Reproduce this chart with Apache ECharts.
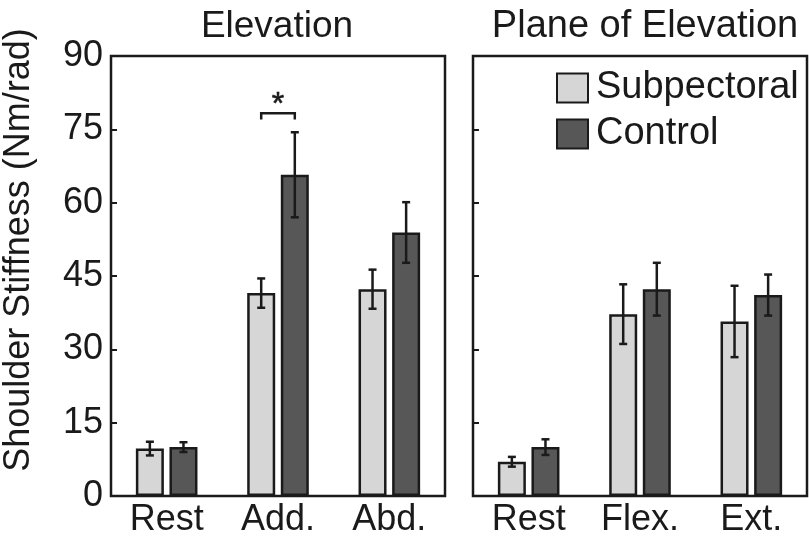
<!DOCTYPE html>
<html>
<head>
<meta charset="utf-8">
<script src="https://cdn.jsdelivr.net/npm/echarts@6/dist/echarts.min.js"></script>
<style>
  html, body { margin: 0; padding: 0; background: #fff; }
  #chart { width: 809px; height: 540px; }
</style>
</head>
<body>
<div id="chart"></div>
<script>
// categories
const elevCats = ['Rest', 'Add.', 'Abd.'];
const planeCats = ['Rest', 'Flex.', 'Ext.'];
// means and error (+/-)
const elevSub = [9.7, 41.5, 42.3];
const elevSubErr = [1.4, 3.0, 4.0];
const elevCtrl = [10.0, 65.7, 53.9];
const elevCtrlErr = [1.0, 8.7, 6.2];
const planeSub = [7.0, 37.2, 35.7];
const planeSubErr = [1.0, 6.1, 7.3];
const planeCtrl = [10.0, 42.3, 41.1];
const planeCtrlErr = [1.6, 5.4, 4.2];
// y axis
const yMin = 0, yMax = 90, yStep = 15;
// significance bracket on Add.
const sigCat = 1, sigTop = 78.3, sigTip = 77.0, sigMark = '*';

const FONT = 'Liberation Sans, Arial, sans-serif';
const INK = '#1a1a1a';
const LIGHT = '#d6d6d6';
const DARK = '#575757';
const BAR_W = 28;
const BAR_GAP = 0.2;
const OFF = BAR_W * (1 + BAR_GAP) / 2;

function errData(vals, errs) {
  return vals.map((v, i) => [i, v - errs[i], v + errs[i]]);
}

function errRender(offset) {
  return function (params, api) {
    const lo = api.coord([api.value(0), api.value(1)]);
    const hi = api.coord([api.value(0), api.value(2)]);
    const x = lo[0] + offset;
    const cap = 4;
    const st = { stroke: INK, lineWidth: 2.5 };
    return {
      type: 'group',
      children: [
        { type: 'line', shape: { x1: x, y1: lo[1], x2: x, y2: hi[1] }, style: st },
        { type: 'line', shape: { x1: x - cap, y1: lo[1], x2: x + cap, y2: lo[1] }, style: st },
        { type: 'line', shape: { x1: x - cap, y1: hi[1], x2: x + cap, y2: hi[1] }, style: st }
      ]
    };
  };
}

function barSeries(name, data, color, idx) {
  return {
    name: name,
    type: 'bar',
    xAxisIndex: idx,
    yAxisIndex: idx,
    data: data,
    barWidth: BAR_W,
    barGap: (BAR_GAP * 100) + '%',
    itemStyle: { color: color, borderColor: INK, borderWidth: 2.5 },
    z: 2
  };
}

function errSeries(vals, errs, offset, idx) {
  return {
    type: 'custom',
    xAxisIndex: idx,
    yAxisIndex: idx,
    data: errData(vals, errs),
    encode: { x: 0, y: [1, 2] },
    renderItem: errRender(offset),
    z: 4,
    silent: true
  };
}

function yAxis(idx, showLabels) {
  const ax = {
    type: 'value',
    gridIndex: idx,
    min: yMin,
    max: yMax,
    interval: yStep,
    splitLine: { show: false },
    axisLine: { show: false },
    axisTick: { show: true, inside: true, length: 6, lineStyle: { color: INK, width: 2 } },
    axisLabel: { show: showLabels, fontSize: 36, color: INK, fontFamily: FONT, margin: 8 }
  };
  if (showLabels) {
    ax.name = 'Shoulder Stiffness (Nm/rad)';
    ax.nameLocation = 'middle';
    ax.nameGap = 74;
    ax.nameTextStyle = { fontSize: 36, color: INK, fontFamily: FONT, padding: [0, 0, 0, 52] };
  }
  return ax;
}

function xAxis(idx, cats) {
  return {
    type: 'category',
    gridIndex: idx,
    data: cats,
    axisLine: { show: false },
    axisTick: { show: false },
    axisLabel: { fontSize: 36, color: INK, fontFamily: FONT, margin: 6, interval: 0 }
  };
}

const chart = echarts.init(document.getElementById('chart'));
chart.setOption({
  animation: false,
  backgroundColor: '#fff',
  title: [
    { text: 'Elevation', left: 277, top: 8, textAlign: 'center', padding: 0,
      textStyle: { fontSize: 37, fontWeight: 'normal', color: INK, fontFamily: FONT } },
    { text: 'Plane of Elevation', left: 645, top: 8, textAlign: 'center', padding: 0,
      textStyle: { fontSize: 38, fontWeight: 'normal', color: INK, fontFamily: FONT } }
  ],
  legend: {
    data: ['Subpectoral', 'Control'],
    orient: 'vertical',
    left: 556,
    top: 69,
    padding: 0,
    icon: 'rect',
    itemWidth: 31,
    itemHeight: 29,
    itemGap: 8,
    textStyle: { fontSize: 38, color: INK, fontFamily: FONT, padding: [0, 0, 0, 3] }
  },
  grid: [
    { left: 110, top: 56, width: 335, height: 440, show: true, borderColor: INK, borderWidth: 2.5, backgroundColor: 'transparent' },
    { left: 473, top: 56, width: 334, height: 440, show: true, borderColor: INK, borderWidth: 2.5, backgroundColor: 'transparent' }
  ],
  xAxis: [xAxis(0, elevCats), xAxis(1, planeCats)],
  yAxis: [yAxis(0, true), yAxis(1, false)],
  series: [
    barSeries('Subpectoral', elevSub, LIGHT, 0),
    barSeries('Control', elevCtrl, DARK, 0),
    barSeries('Subpectoral', planeSub, LIGHT, 1),
    barSeries('Control', planeCtrl, DARK, 1),
    errSeries(elevSub, elevSubErr, -OFF, 0),
    errSeries(elevCtrl, elevCtrlErr, OFF, 0),
    errSeries(planeSub, planeSubErr, -OFF, 1),
    errSeries(planeCtrl, planeCtrlErr, OFF, 1),
    {
      type: 'custom',
      xAxisIndex: 0,
      yAxisIndex: 0,
      data: [[sigCat, sigTop, sigTip]],
      encode: { x: 0, y: [1, 2] },
      silent: true,
      z: 5,
      renderItem: function (params, api) {
        const top = api.coord([api.value(0), api.value(1)]);
        const tip = api.coord([api.value(0), api.value(2)]);
        const x1 = top[0] - OFF, x2 = top[0] + OFF;
        return {
          type: 'group',
          children: [
            { type: 'polyline',
              shape: { points: [[x1, tip[1]], [x1, top[1]], [x2, top[1]], [x2, tip[1]]] },
              style: { stroke: INK, lineWidth: 2.5, fill: null } },
            { type: 'text',
              style: { text: sigMark, x: top[0], y: top[1] - 24, align: 'center', verticalAlign: 'top',
                       font: '32px ' + FONT, fill: INK, stroke: INK, lineWidth: 0.6 } }
          ]
        };
      }
    }
  ]
});
</script>
</body>
</html>
